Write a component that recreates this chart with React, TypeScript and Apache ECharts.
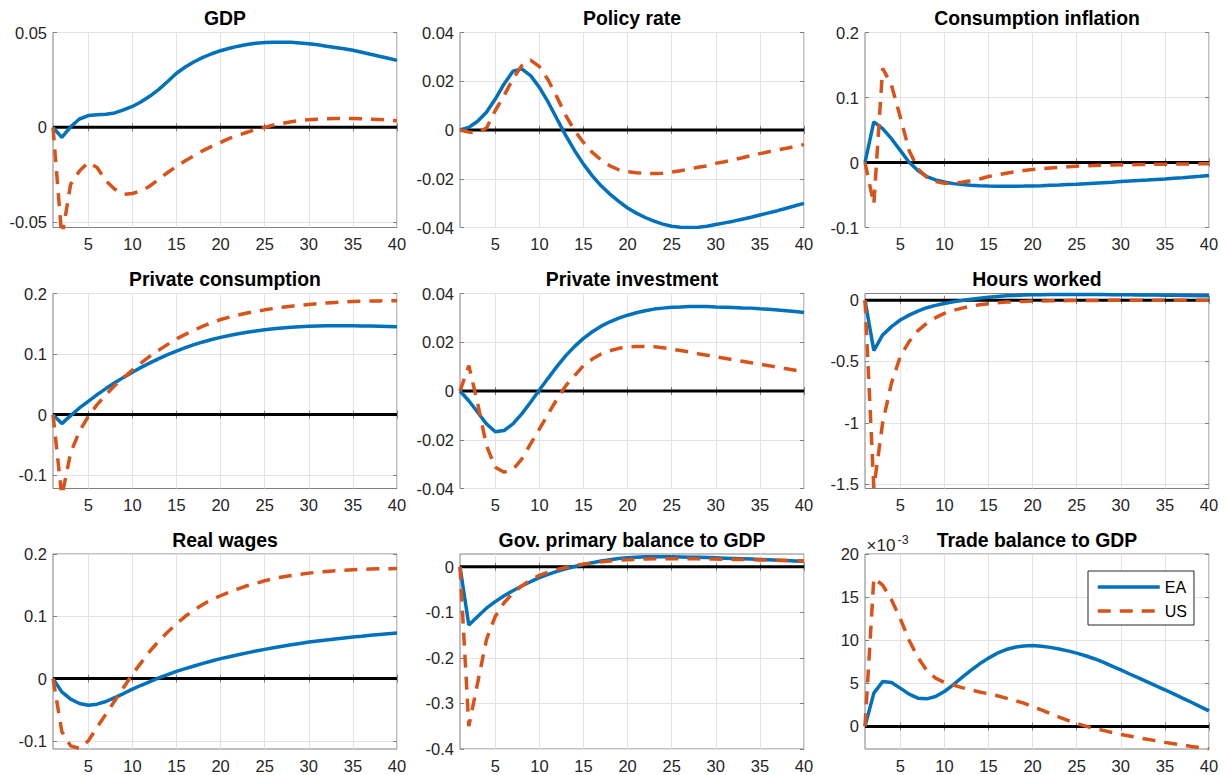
import React, { useEffect, useRef } from "react";
import * as echarts from "echarts";

// Quarters after the shock
const periods = [
  1, 2, 3, 4, 5, 6, 7, 8, 9, 10, 11, 12, 13, 14, 15, 16, 17, 18, 19, 20,
  21, 22, 23, 24, 25, 26, 27, 28, 29, 30, 31, 32, 33, 34, 35, 36, 37, 38, 39, 40,
];
const xTicks = [5, 10, 15, 20, 25, 30, 35, 40];

const seriesNames = ["EA", "US"];

// GDP
const gdpEA = [
  0, -0.0053, 0.0003, 0.0044, 0.0062, 0.0067, 0.0069, 0.0076, 0.0092, 0.011,
  0.0135, 0.0165, 0.02, 0.0242, 0.0285, 0.0318, 0.0346, 0.0369, 0.0388, 0.0404,
  0.0417, 0.0428, 0.0437, 0.0443, 0.0447, 0.0449, 0.0449, 0.0448, 0.0445, 0.0441,
  0.0435, 0.0428, 0.0421, 0.0414, 0.0406, 0.0396, 0.0385, 0.0375, 0.0364, 0.0353,
];
const gdpUS = [
  0, -0.058, -0.03, -0.023, -0.0185, -0.0212, -0.0282, -0.0326, -0.0353, -0.0349,
  -0.0335, -0.0309, -0.0273, -0.0238, -0.0206, -0.0176, -0.015, -0.0123, -0.01, -0.0079,
  -0.0058, -0.0041, -0.0026, -0.0012, 0.0, 0.0012, 0.0021, 0.0029, 0.0036, 0.004,
  0.0043, 0.0045, 0.0046, 0.0046, 0.0046, 0.0045, 0.0043, 0.0041, 0.0038, 0.0035,
];
const gdpTicks = [-0.05, 0, 0.05];

// Policy rate
const policyEA = [
  0, 0.0011, 0.0036, 0.0073, 0.0127, 0.0189, 0.0241, 0.0251, 0.0223, 0.0175,
  0.0114, 0.0045, -0.0023, -0.0085, -0.014, -0.0188, -0.0229, -0.0263, -0.0293, -0.032,
  -0.0341, -0.0359, -0.0374, -0.0386, -0.0395, -0.0399, -0.04, -0.0399, -0.0395, -0.0388,
  -0.0381, -0.0374, -0.0366, -0.0358, -0.0349, -0.034, -0.0331, -0.0321, -0.0311, -0.0301,
];
const policyUS = [
  0, -0.0008, -0.0012, 0.0008, 0.008, 0.0141, 0.021, 0.0264, 0.0287, 0.026,
  0.0205, 0.0134, 0.0059, -0.0003, -0.0051, -0.0092, -0.0123, -0.0147, -0.0163, -0.0171,
  -0.0175, -0.0178, -0.0178, -0.0177, -0.0173, -0.0167, -0.016, -0.0153, -0.0147, -0.0137,
  -0.013, -0.0122, -0.0114, -0.0105, -0.0097, -0.0089, -0.0082, -0.0075, -0.0067, -0.006,
];
const policyTicks = [-0.04, -0.02, 0, 0.02, 0.04];

// Consumption inflation
const inflEA = [
  0, 0.0624, 0.052, 0.0366, 0.0186, 0.0005, -0.0124, -0.0216, -0.0268, -0.0299,
  -0.0325, -0.034, -0.035, -0.0358, -0.0363, -0.0366, -0.0366, -0.0365, -0.0363, -0.036,
  -0.0356, -0.0351, -0.0346, -0.034, -0.0335, -0.0327, -0.0319, -0.0311, -0.0303, -0.0294,
  -0.0286, -0.0278, -0.027, -0.0261, -0.0253, -0.0243, -0.0233, -0.0222, -0.0212, -0.0201,
];
const inflUS = [
  0, -0.064, 0.145, 0.119, 0.07, 0.0186, -0.0098, -0.0227, -0.0294, -0.032,
  -0.032, -0.0304, -0.028, -0.0253, -0.0216, -0.019, -0.0165, -0.0144, -0.0124, -0.0108,
  -0.0096, -0.0085, -0.0075, -0.0066, -0.0057, -0.0051, -0.0046, -0.0042, -0.0039, -0.0036,
  -0.0034, -0.0032, -0.003, -0.0028, -0.0026, -0.0025, -0.0023, -0.0022, -0.0021, -0.002,
];
const inflTicks = [-0.1, 0, 0.1, 0.2];

// Private consumption
const consEA = [
  0, -0.0148, -0.0016, 0.011, 0.022, 0.033, 0.043, 0.0525, 0.0615, 0.07,
  0.078, 0.0855, 0.0925, 0.099, 0.105, 0.1105, 0.1155, 0.12, 0.124, 0.1275,
  0.1307, 0.1335, 0.136, 0.1382, 0.14, 0.1417, 0.1431, 0.1443, 0.1452, 0.1459,
  0.1464, 0.1467, 0.1468, 0.1468, 0.1467, 0.1465, 0.1462, 0.1458, 0.1454, 0.145,
];
const consUS = [
  0, -0.135, -0.063, -0.0275, -0.003, 0.0165, 0.033, 0.048, 0.061, 0.0735,
  0.0855, 0.0965, 0.1065, 0.116, 0.125, 0.1325, 0.1395, 0.146, 0.152, 0.157,
  0.161, 0.1645, 0.1677, 0.1705, 0.173, 0.1752, 0.1772, 0.179, 0.1806, 0.182,
  0.1832, 0.1843, 0.1852, 0.186, 0.1866, 0.1871, 0.1875, 0.1878, 0.188, 0.1882,
];
const consTicks = [-0.1, 0, 0.1, 0.2];

// Private investment
const invEA = [
  0, -0.004, -0.0087, -0.0135, -0.0167, -0.0162, -0.0135, -0.0094, -0.0046, 0.0004,
  0.0053, 0.0101, 0.0145, 0.0183, 0.0216, 0.0243, 0.0266, 0.0284, 0.0299, 0.0311,
  0.0321, 0.0329, 0.0336, 0.034, 0.0344, 0.0345, 0.0347, 0.0347, 0.0347, 0.0345,
  0.0344, 0.0343, 0.0341, 0.034, 0.0337, 0.0335, 0.0332, 0.0329, 0.0326, 0.0322,
];
const invUS = [
  0, 0.0104, -0.005, -0.0224, -0.0313, -0.0333, -0.0322, -0.0279, -0.0217, -0.0156,
  -0.0094, -0.0033, 0.0022, 0.0063, 0.0104, 0.0131, 0.0152, 0.0165, 0.0175, 0.018,
  0.0183, 0.0183, 0.0182, 0.0177, 0.0172, 0.0166, 0.016, 0.0153, 0.0147, 0.014,
  0.0134, 0.0128, 0.0122, 0.0116, 0.011, 0.0104, 0.0097, 0.0091, 0.0085, 0.0079,
];
const invTicks = [-0.04, -0.02, 0, 0.02, 0.04];

// Hours worked
const hoursEA = [
  0, -0.411, -0.284, -0.216, -0.162, -0.122, -0.089, -0.062, -0.043, -0.027,
  -0.0135, -0.003, 0.008, 0.016, 0.024, 0.03, 0.035, 0.038, 0.041, 0.043,
  0.044, 0.045, 0.045, 0.045, 0.045, 0.045, 0.045, 0.045, 0.044, 0.043,
  0.043, 0.042, 0.041, 0.041, 0.04, 0.039, 0.038, 0.037, 0.036, 0.035,
];
const hoursUS = [
  0, -1.53, -1.0, -0.676, -0.46, -0.338, -0.249, -0.189, -0.143, -0.108,
  -0.084, -0.065, -0.049, -0.038, -0.03, -0.022, -0.016, -0.0135, -0.011, -0.008,
  -0.007, -0.006, -0.005, -0.004, -0.003, -0.0027, -0.0024, -0.0021, -0.0018, -0.0015,
  -0.0013, -0.0011, -0.001, -0.0009, -0.0008, -0.0007, -0.0006, -0.0005, -0.0005, -0.0004,
];
const hoursTicks = [-1.5, -1, -0.5, 0];

// Real wages
const wagesEA = [
  0, -0.0213, -0.033, -0.04, -0.0427, -0.041, -0.0368, -0.0304, -0.024, -0.017,
  -0.0107, -0.0048, 0.0011, 0.0064, 0.0117, 0.016, 0.0203, 0.0245, 0.0283, 0.032,
  0.0352, 0.0383, 0.0413, 0.0442, 0.0469, 0.0495, 0.052, 0.0543, 0.0565, 0.0587,
  0.0604, 0.062, 0.0636, 0.0652, 0.0667, 0.068, 0.0694, 0.0707, 0.0719, 0.0731,
];
const wagesUS = [
  0, -0.085, -0.108, -0.112, -0.1, -0.078, -0.057, -0.0357, -0.0144, 0.0069,
  0.0256, 0.0443, 0.0603, 0.0747, 0.088, 0.1, 0.11, 0.119, 0.127, 0.133,
  0.139, 0.144, 0.149, 0.153, 0.157, 0.1605, 0.1632, 0.1655, 0.1675, 0.1693,
  0.1708, 0.172, 0.1731, 0.174, 0.1748, 0.1754, 0.1759, 0.1763, 0.1765, 0.1766,
];
const wagesTicks = [-0.1, 0, 0.1, 0.2];

// Government primary balance to GDP
const govEA = [
  0, -0.128, -0.109, -0.091, -0.0766, -0.0635, -0.0526, -0.0423, -0.0328, -0.024,
  -0.0168, -0.0102, -0.0044, 0.0007, 0.0051, 0.009, 0.0125, 0.0155, 0.018, 0.0198,
  0.021, 0.0217, 0.022, 0.022, 0.0218, 0.0215, 0.0211, 0.0206, 0.0201, 0.0195,
  0.0189, 0.0182, 0.0175, 0.0168, 0.0161, 0.0153, 0.0145, 0.0137, 0.0129, 0.0121,
];
const govUS = [
  0, -0.35, -0.255, -0.16, -0.109, -0.079, -0.058, -0.042, -0.029, -0.019,
  -0.0117, -0.0058, -0.0015, 0.003, 0.0058, 0.0085, 0.0108, 0.0127, 0.0142, 0.0154,
  0.0163, 0.0169, 0.0173, 0.0175, 0.0176, 0.0176, 0.0175, 0.0173, 0.0171, 0.0168,
  0.0165, 0.0162, 0.0158, 0.0154, 0.015, 0.0146, 0.0142, 0.0138, 0.0133, 0.0128,
];
const govTicks = [-0.4, -0.3, -0.2, -0.1, 0];

// Trade balance to GDP, in units of 10^-3
const tradeEA = [
  0, 3.86, 5.2, 5.1, 4.44, 3.75, 3.28, 3.2, 3.47, 4.05,
  4.83, 5.68, 6.49, 7.26, 7.92, 8.49, 8.92, 9.19, 9.34, 9.38,
  9.3, 9.17, 8.98, 8.76, 8.5, 8.2, 7.85, 7.45, 7.0, 6.55,
  6.08, 5.62, 5.16, 4.7, 4.25, 3.77, 3.28, 2.8, 2.3, 1.8,
];
const tradeUS = [
  0, 17.2, 16.4, 14.7, 12.5, 10.0, 8.0, 6.5, 5.6, 5.1,
  4.8, 4.5, 4.25, 4.0, 3.78, 3.55, 3.28, 3.0, 2.7, 2.3,
  1.93, 1.5, 1.08, 0.7, 0.35, 0.04, -0.23, -0.46, -0.7, -0.93,
  -1.12, -1.31, -1.5, -1.66, -1.85, -2.0, -2.16, -2.32, -2.47, -2.62,
];
const tradeTicks = [0, 5, 10, 15, 20];

const panels = [
  { title: "GDP", ea: gdpEA, us: gdpUS, yMin: -0.0528, yMax: 0.05, ticks: gdpTicks },
  { title: "Policy rate", ea: policyEA, us: policyUS, yMin: -0.04, yMax: 0.04, ticks: policyTicks },
  { title: "Consumption inflation", ea: inflEA, us: inflUS, yMin: -0.1, yMax: 0.2, ticks: inflTicks },
  { title: "Private consumption", ea: consEA, us: consUS, yMin: -0.122, yMax: 0.2, ticks: consTicks },
  { title: "Private investment", ea: invEA, us: invUS, yMin: -0.04, yMax: 0.04, ticks: invTicks },
  { title: "Hours worked", ea: hoursEA, us: hoursUS, yMin: -1.535, yMax: 0.054, ticks: hoursTicks },
  { title: "Real wages", ea: wagesEA, us: wagesUS, yMin: -0.113, yMax: 0.2, ticks: wagesTicks },
  { title: "Gov. primary balance to GDP", ea: govEA, us: govUS, yMin: -0.4, yMax: 0.028, ticks: govTicks },
  { title: "Trade balance to GDP", ea: tradeEA, us: tradeUS, yMin: -2.62, yMax: 20, ticks: tradeTicks },
];

const FONT = "'Liberation Sans', Arial, Helvetica, sans-serif";
const LABEL_COLOR = "#262626";
const BOX_COLOR = "#808080";
const GRID_COLOR = "#e3e3e3";
const EA_COLOR = "#0072BD";
const US_COLOR = "#D95319";

const COL_LEFT = [53, 460, 865];
const ROW_TOP = [32.5, 293.5, 554];
const PLOT_W = 344;
const PLOT_H = 195;

const fmt = (v: number) => String(+v.toFixed(6));

function buildOption() {
  const grid: any[] = [];
  const xAxis: any[] = [];
  const yAxis: any[] = [];
  const series: any[] = [];
  const graphic: any[] = [];

  const tick = (values: number[]) => ({
    show: true,
    inside: true,
    length: 4,
    customValues: values,
    lineStyle: { color: BOX_COLOR, width: 1 },
  });
  const label = (values: number[], margin: number) => ({
    show: true,
    customValues: values,
    color: LABEL_COLOR,
    fontSize: 16.5,
    fontFamily: FONT,
    margin,
    formatter: (v: number) => fmt(v),
  });

  panels.forEach((p, i) => {
    const left = COL_LEFT[i % 3];
    const top = ROW_TOP[Math.floor(i / 3)];
    grid.push({
      left,
      top,
      width: PLOT_W,
      height: PLOT_H,
      show: true,
      borderColor: BOX_COLOR,
      borderWidth: 1,
      backgroundColor: "#ffffff",
    });

    xAxis.push({
      type: "value",
      gridIndex: i,
      position: "bottom",
      min: 1,
      max: 40,
      axisLine: { show: false },
      axisTick: tick(xTicks),
      axisLabel: label(xTicks, 8),
      splitLine: { show: true, lineStyle: { color: GRID_COLOR, width: 1 } },
    });
    xAxis.push({
      type: "value",
      gridIndex: i,
      position: "top",
      min: 1,
      max: 40,
      axisLine: { show: false },
      axisTick: tick(xTicks),
      axisLabel: { show: false },
      splitLine: { show: false },
    });
    yAxis.push({
      type: "value",
      gridIndex: i,
      position: "left",
      min: p.yMin,
      max: p.yMax,
      axisLine: { show: false },
      axisTick: tick(p.ticks),
      axisLabel: label(p.ticks, 6),
      splitLine: { show: true, lineStyle: { color: GRID_COLOR, width: 1 } },
    });
    yAxis.push({
      type: "value",
      gridIndex: i,
      position: "right",
      min: p.yMin,
      max: p.yMax,
      axisLine: { show: false },
      axisTick: tick(p.ticks),
      axisLabel: { show: false },
      splitLine: { show: false },
    });

    const ax = { xAxisIndex: 2 * i, yAxisIndex: 2 * i };
    series.push({
      type: "line",
      name: "zero",
      ...ax,
      data: [[periods[0], 0], [periods[periods.length - 1], 0]],
      symbol: "none",
      lineStyle: { color: "#000000", width: 3 },
      silent: true,
      z: 2,
    });
    series.push({
      type: "line",
      name: seriesNames[0],
      ...ax,
      data: periods.map((t, k) => [t, p.ea[k]]),
      symbol: "none",
      color: EA_COLOR,
      lineStyle: { color: EA_COLOR, width: 3.5 },
      clip: true,
      silent: true,
      z: 3,
    });
    series.push({
      type: "line",
      name: seriesNames[1],
      ...ax,
      data: periods.map((t, k) => [t, p.us[k]]),
      symbol: "none",
      color: US_COLOR,
      lineStyle: { color: US_COLOR, width: 3.5, type: [13, 9] },
      clip: true,
      silent: true,
      z: 4,
    });

    graphic.push({
      type: "text",
      x: left + PLOT_W / 2,
      y: top - 14.5,
      silent: true,
      style: {
        text: p.title,
        fill: "#000000",
        font: `bold 19.4px ${FONT}`,
        align: "center",
        verticalAlign: "middle",
      },
    });
  });

  // exponent marker above the trade balance axis
  const last = panels.length - 1;
  const tl = COL_LEFT[last % 3];
  const tt = ROW_TOP[Math.floor(last / 3)];
  graphic.push({
    type: "text",
    x: tl + 1.5,
    y: tt - 9,
    silent: true,
    style: { text: "×10", fill: LABEL_COLOR, font: `17px ${FONT}`, align: "left", verticalAlign: "middle" },
  });
  graphic.push({
    type: "text",
    x: tl + 32.5,
    y: tt - 14,
    silent: true,
    style: { text: "-3", fill: LABEL_COLOR, font: `12.5px ${FONT}`, align: "left", verticalAlign: "middle" },
  });

  return {
    animation: false,
    backgroundColor: "#ffffff",
    textStyle: { fontFamily: FONT },
    grid,
    xAxis,
    yAxis,
    series,
    graphic,
    legend: {
      data: seriesNames,
      orient: "vertical",
      left: 1088,
      top: 571,
      itemWidth: 62,
      itemHeight: 14,
      itemGap: 8,
      padding: [8, 7, 6, 8],
      backgroundColor: "#ffffff",
      borderColor: LABEL_COLOR,
      borderWidth: 1,
      borderRadius: 0,
      selectedMode: false,
      itemStyle: { opacity: 0 },
      lineStyle: { width: 3.5 },
      textStyle: { fontSize: 16, color: "#000000", fontFamily: FONT },
    },
  };
}

export default function App() {
  const ref = useRef<HTMLDivElement>(null);
  useEffect(() => {
    if (!ref.current) return;
    const chart = echarts.init(ref.current, undefined, { renderer: "svg" });
    chart.setOption(buildOption() as any);
    return () => chart.dispose();
  }, []);
  return (
    <div
      ref={ref}
      style={{ position: "absolute", left: 0, top: 0, width: 1227, height: 775, background: "#ffffff" }}
    />
  );
}
